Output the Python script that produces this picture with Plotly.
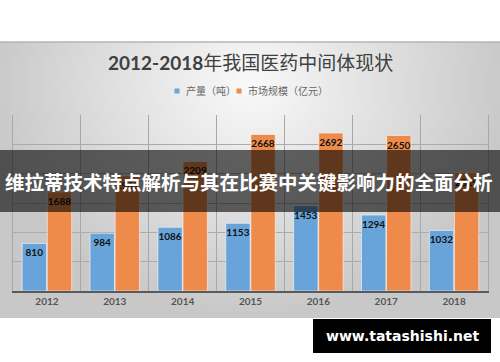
import base64, struct, zlib
import plotly.graph_objects as go

# ---- data ----
years = ["2012", "2013", "2014", "2015", "2016", "2017", "2018"]
output_tons = [810, 984, 1086, 1153, 1453, 1294, 1032]
market_size = [1688, 1961, 2209, 2668, 2692, 2650, 2019]
series_names = ["产量（吨）", "市场规模（亿元）"]
series_colors = ["#68a3da", "#ee8a4a"]
title_num = "2012-2018"
title_cn = "年我国医药中间体现状"
banner_text = "维拉蒂技术特点解析与其在比赛中关键影响力的全面分析"
watermark = "www.tatashishi.net"

W, H = 500, 362
ML, MR, MT, MB = 13, 12, 115, 71
PW, PH = W - ML - MR, H - MT - MB


def px(x):
    return (x - ML) / PW


def py(y):
    return (H - MB - y) / PH


# ---- radial gradient background image (PNG built by hand) ----
def gradient_png(w, h):
    rows = b""
    for j in range(h):
        yy = 42 + (j + 0.5) * 276 / h
        row = b"\x00"
        for i in range(w):
            xx = (i + 0.5) * 500 / w
            d = (((xx - 250) / 265) ** 2 + ((yy - 85) / 235) ** 2) ** 0.5
            d = min(d, 1.0)
            v = int(250 - 50 * d)
            row += bytes((v, v, v))
        rows += row

    def chunk(t, data):
        c = struct.pack(">I", len(data)) + t + data
        return c + struct.pack(">I", zlib.crc32(t + data) & 0xFFFFFFFF)

    png = b"\x89PNG\r\n\x1a\n"
    png += chunk(b"IHDR", struct.pack(">IIBBBBB", w, h, 8, 2, 0, 0, 0))
    png += chunk(b"IDAT", zlib.compress(rows, 9))
    png += chunk(b"IEND", b"")
    return "data:image/png;base64," + base64.b64encode(png).decode()


xs = list(range(len(years)))

fig = go.Figure()
for name, vals, col in zip(series_names, [output_tons, market_size], series_colors):
    fig.add_trace(go.Bar(
        x=xs, y=vals, name=name,
        marker=dict(color=col, line=dict(color="rgba(255,255,255,0.55)", width=1)),
        text=vals, textposition="inside", insidetextanchor="end", textangle=0,
        constraintext="none",
        textfont=dict(family="Lato", size=10, color="#111111", weight="bold"),
    ))

# legend drawn as small squares + labels
legend_items = [(177, 184, series_names[0], series_colors[0]),
                (239, 246, series_names[1], series_colors[1])]
shapes = [
    dict(type="line", xref="paper", yref="paper", x0=px(0), x1=px(500), y0=py(42), y1=py(42),
         line=dict(color="#b5b5b5", width=1.5)),
    dict(type="rect", xref="paper", yref="paper", x0=px(0), x1=px(500), y0=py(212), y1=py(150),
         fillcolor="rgba(0,0,0,0.6)", line=dict(width=0), layer="above"),
    dict(type="rect", xref="paper", yref="paper", x0=px(313), x1=px(491), y0=py(353), y1=py(319),
         fillcolor="black", line=dict(width=0), layer="above"),
]
annotations = [
    dict(text=f"<b>{title_num}</b>{title_cn}", xref="paper", yref="paper",
         x=px(250), y=py(62), xanchor="center", yanchor="middle", showarrow=False,
         font=dict(family="Lato, Noto Sans CJK SC", size=19, color="#404040")),
    dict(text=f"<b>{banner_text}</b>", xref="paper", yref="paper",
         x=px(249), y=py(181), xanchor="center", yanchor="middle", showarrow=False,
         font=dict(family="Noto Sans CJK SC", size=19.5, color="white")),
    dict(text=f"<b>{watermark}</b>", xref="paper", yref="paper",
         x=px(402), y=py(336), xanchor="center", yanchor="middle", showarrow=False,
         font=dict(family="DejaVu Sans", size=14, color="white")),
]
for sx, tx, name, col in legend_items:
    shapes.append(dict(type="rect", xref="paper", yref="paper",
                       x0=px(sx - 2.5), x1=px(sx + 2.5), y0=py(93.5), y1=py(88.5),
                       fillcolor=col, line=dict(width=0)))
    annotations.append(dict(text=name, xref="paper", yref="paper", x=px(tx), y=py(91),
                            xanchor="left", yanchor="middle", showarrow=False,
                            font=dict(family="Noto Sans CJK SC", size=10, color="#666666")))

fig.update_layout(
    width=W, height=H,
    margin=dict(l=ML, r=MR, t=MT, b=MB, pad=0),
    paper_bgcolor="white",
    plot_bgcolor="rgba(0,0,0,0)",
    barmode="group", bargap=0.26, bargroupgap=0.03,
    uniformtext=dict(minsize=10, mode="show"),
    showlegend=False,
    xaxis=dict(range=[-0.5, 6.5], tickmode="array", tickvals=xs, ticktext=years,
               showgrid=False, zeroline=False, ticks="",
               showline=True, linecolor="#5a5a5a", linewidth=1.5,
               tickfont=dict(family="Lato", size=10, color="#555555", weight="bold"),
               minor=dict(tickmode="linear", tick0=-0.5, dtick=1, showgrid=True,
                          gridcolor="#a8a8a8", gridwidth=1, ticks="")),
    yaxis=dict(range=[0, 3000], dtick=500, showgrid=True, gridcolor="#ababab", gridwidth=1,
               showticklabels=False, zeroline=False, ticks="",
               showline=True, linecolor="#a8a8a8", linewidth=1, mirror=True),
    images=[dict(source=gradient_png(125, 69), xref="paper", yref="paper",
                 x=px(0), y=py(42), sizex=500 / PW, sizey=276 / PH,
                 sizing="stretch", xanchor="left", yanchor="top", layer="below")],
    shapes=shapes,
    annotations=annotations,
)

fig.write_html("out.html", config={"displayModeBar": False},
               post_script="document.body.style.margin='0';document.body.style.overflow='hidden';")
